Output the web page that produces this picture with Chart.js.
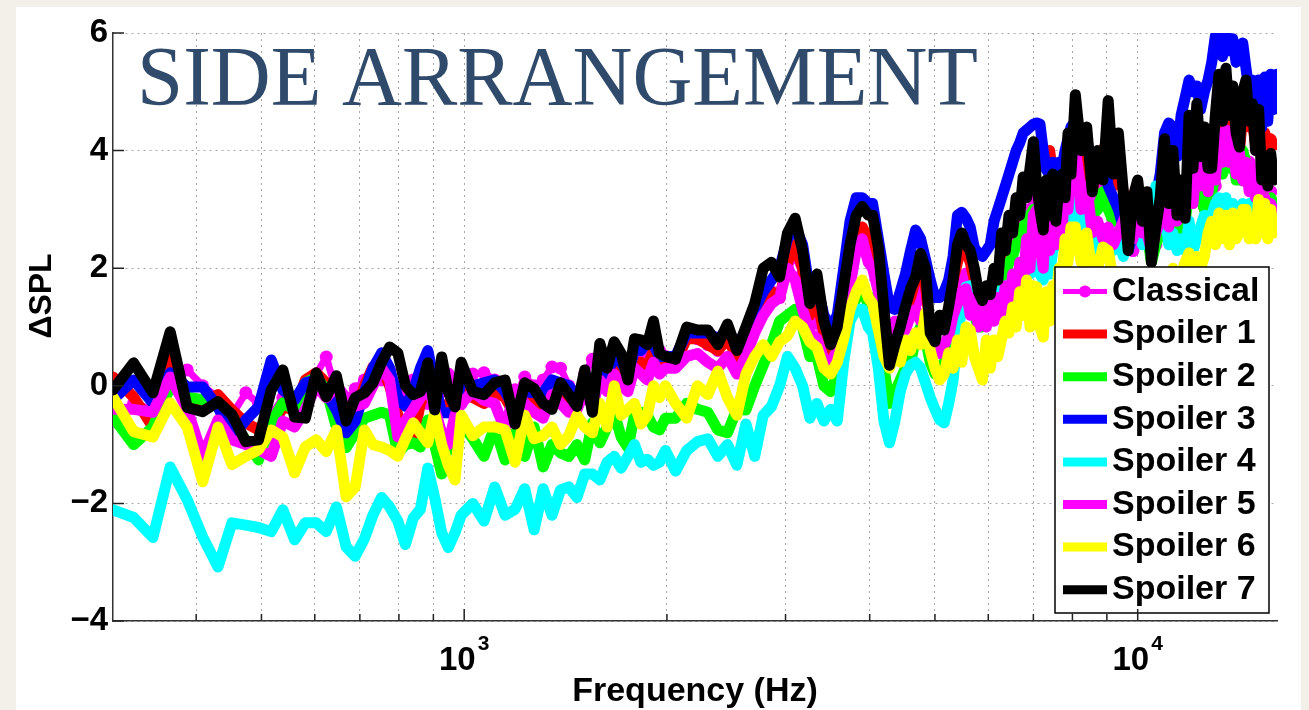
<!DOCTYPE html>
<html>
<head>
<meta charset="utf-8">
<title>Side arrangement</title>
<script src="https://cdn.jsdelivr.net/npm/chart.js@4.4.1/dist/chart.umd.min.js"></script>
<style>
  html, body { margin: 0; padding: 0; width: 1309px; height: 710px; overflow: hidden; background: #f3f0ea; }
  #panel { position: absolute; left: 16px; top: 7px; width: 1285px; height: 703px; background: #fff; }
  canvas { display: block; }
</style>
</head>
<body>
<div id="panel"><canvas id="chart" width="1285" height="703"></canvas></div>
<script>
// --- data (Hz / dB) ---
const freqs = [
  301, 323, 345, 366, 388, 409, 431, 452, 474, 495, 517, 538, 560, 581, 603, 624, 646,
  668, 689, 711, 732, 754, 775, 797, 818, 840, 861, 883, 904, 926, 947, 969, 990,
  1030, 1070, 1110, 1150, 1190, 1230, 1270, 1310, 1350, 1390, 1430, 1470, 1510,
  1550, 1590, 1630, 1670, 1710, 1750, 1790, 1830, 1870, 1910, 1950, 1990,
  2060, 2140, 2220, 2300, 2380, 2460, 2540, 2620, 2700, 2780, 2860, 2940, 3020,
  3100, 3180, 3260, 3340, 3420, 3500, 3580, 3660, 3740, 3820, 3900, 3980,
  4040, 4120, 4200, 4280, 4360, 4440, 4520, 4600, 4680, 4760,
  4840, 4920, 5000, 5080, 5160, 5240, 5320, 5400, 5480, 5560,
  5640, 5720, 5800, 5880, 5960, 6040, 6120, 6200, 6280, 6360,
  6440, 6520, 6600, 6680, 6760, 6840, 6920, 7000, 7080, 7160,
  7240, 7320, 7400, 7480, 7560, 7640, 7720, 7800, 7880, 7960,
  8080, 8240, 8400, 8560, 8720, 8880, 9040, 9200, 9360, 9520,
  9680, 9840, 10000, 10160, 10320, 10480, 10640, 10800, 10960, 11120,
  11280, 11440, 11600, 11760, 11920, 12080, 12240, 12400, 12560, 12720,
  12880, 13040, 13200, 13360, 13520, 13680, 13840, 14000, 14160, 14320,
  14480, 14640, 14800, 14960, 15120, 15280, 15440, 15600, 15760, 15920,
  16100
];

const classical = [
  -0.6, -0.3, -0.4, 0.3, 0.27, 0.0, -0.2, -0.5, -0.12, -0.3, -0.5, -0.2, -0.4, -0.1, 0.2, 0.49, -0.1,
  -0.3, -0.05, 0.1, 0.05, 0.1, 0.25, -0.1, -0.2, 0.1, 0.15, -0.3, 0.0, -0.1, 0.2, 0.0, -0.3,
  0.2, 0.22, 0.1, 0.0, -0.2, 0.15, 0.0, 0.1, 0.32, 0.3, 0.0, -0.1, 0.2, 0.45, 0.3, 0.2, 0.4, 0.3, 0.2, 0.5, 0.55, 0.45, 0.6, 0.6, 0.5,
  0.5, 0.8, 0.8, 0.7, 0.6, 0.8, 0.5, 0.8, 1.1, 1.4, 1.6, 1.5, 2.0, 2.2, 1.9, 1.0, 1.2, 0.6, 0.4, 0.8, 1.3, 2.0, 2.4, 2.5, 2.2,
  2.2, 1.7, 1.0, 0.5, 0.7, 0.9, 1.1, 1.3, 1.4, 1.6,
  1.5, 1.0, 0.8, 0.6, 0.7, 0.9, 1.3, 1.6, 1.8, 1.9,
  1.7, 1.6, 1.4, 1.3, 1.4, 1.5, 1.6, 1.8, 2.0, 2.1,
  2.2, 2.3, 2.5, 2.6, 2.8, 2.9, 3.0, 3.2, 3.0, 2.8,
  2.7, 2.6, 2.8, 3.0, 2.9, 2.8, 3.0, 3.2, 3.4, 3.6,
  3.8, 3.9, 3.4, 3.0, 3.2, 3.5, 3.1, 2.8, 2.9, 3.0,
  2.6, 2.3, 2.5, 2.8, 2.5, 2.2, 2.4, 2.6, 2.9, 3.1,
  3.0, 2.8, 2.7, 2.7, 3.2, 3.6, 3.5, 3.2, 3.4, 3.7,
  3.6, 3.4, 4.0, 4.2, 4.1, 3.8, 3.9, 4.1, 3.7, 3.5,
  3.6, 3.8, 3.4, 3.3, 3.3, 3.5, 3.4, 3.0, 3.3, 2.8,
  3.1
];
const spoiler1 = [
  0.15, -0.19, -0.7, 0.44, -0.24, -0.29, -0.15, -0.41, -0.63, -0.75, -0.75, -0.36, -0.41, 0.1, 0.22, 0.05, -0.02,
  -0.3, -0.5, 0.0, 0.32, 0.32, 0.0, -0.5, -0.8, -0.9, -0.3, 0.0, -0.2, -0.4, -0.3, -0.2, -0.1,
  -0.2, -0.3, -0.1, -0.2, -0.5, -0.2, -0.3, -0.4, -0.3, -0.2, -0.3, -0.4, 0.0, -0.3, 0.3, 0.1, 0.3, 0.2, 0.0, 0.4, 0.4, 0.3, 0.6, 0.3, 0.4,
  0.4, 0.8, 0.8, 0.7, 0.6, 0.8, 0.5, 0.8, 1.1, 1.5, 1.6, 1.5, 2.1, 2.4, 2.0, 1.2, 1.5, 0.9, 0.6, 0.9, 1.5, 2.1, 2.5, 2.7, 2.5,
  2.6, 2.0, 1.2, 0.5, 0.7, 0.9, 1.3, 1.5, 1.8, 2.0,
  1.7, 1.0, 0.9, 1.1, 1.0, 1.3, 1.8, 2.1, 2.4, 2.3,
  2.1, 1.8, 1.5, 1.4, 1.6, 1.6, 1.9, 1.9, 2.3, 2.4,
  2.7, 2.8, 3.0, 3.1, 3.3, 3.4, 3.6, 3.9, 3.7, 3.9,
  4.0, 3.95, 4.0, 3.6, 3.4, 3.3, 3.5, 3.6, 3.9, 4.0,
  4.5, 4.1, 4.0, 3.3, 3.8, 4.0, 4.2, 3.4, 3.8, 3.3,
  2.6, 3.0, 3.2, 2.8, 3.0, 2.3, 2.6, 3.0, 3.7, 3.1,
  3.6, 2.9, 3.2, 2.9, 3.9, 3.4, 3.5, 3.2, 3.0, 3.3,
  3.6, 4.2, 4.8, 4.3, 4.9, 4.4, 4.8, 4.2, 4.0, 4.6,
  4.9, 4.4, 4.5, 4.1, 4.5, 4.0, 4.3, 4.1, 4.2, 4.1,
  4.1
];
const spoiler2 = [
  -0.53, -1.0, -0.7, -0.02, -0.19, -0.24, -0.36, -0.63, -0.92, -1.26, -0.63, -0.29, -0.41, 0.05, 0.15, -0.07, -0.7,
  -1.05, -0.8, -0.55, -0.5, -0.45, -0.5, -1.15, -1.0, -0.97, -1.04, -0.58, -1.0, -1.5, -1.0, -0.58, -0.63,
  -0.9, -1.2, -0.7, -1.26, -0.8, -1.2, -0.7, -1.38, -1.0, -1.14, -1.2, -1.0, -1.26, -0.63, -0.97, -0.7, -0.46, -0.87, -1.05, -0.5, -0.45, -0.5, -0.7, -0.75, -0.55,
  -0.55, -0.3, -0.4, -0.45, -0.75, -0.8, -0.4, -0.41, 0.0, 0.35, 0.7, 1.1, 1.2, 1.3, 1.0, 0.5, 0.5, 0.0, -0.1, 0.2, 0.7, 1.2, 1.5, 1.6, 1.4,
  1.5, 0.9, 0.3, -0.3, -0.1, 0.1, 0.3, 0.4, 0.8, 1.0,
  0.8, 0.4, 0.2, 0.3, 0.4, 0.6, 1.0, 1.2, 1.5, 1.5,
  1.3, 1.2, 1.0, 1.0, 1.1, 1.2, 1.4, 1.5, 1.7, 1.9,
  2.1, 2.2, 2.4, 2.5, 2.7, 2.8, 2.9, 3.0, 2.8, 2.6,
  2.7, 2.8, 2.6, 2.8, 2.5, 2.5, 2.7, 2.9, 3.2, 3.3,
  3.6, 3.1, 3.3, 2.9, 3.0, 3.3, 3.0, 2.8, 2.9, 2.6,
  2.3, 2.6, 2.8, 2.6, 2.6, 2.1, 2.4, 2.6, 3.1, 2.8,
  3.0, 2.6, 2.8, 2.8, 3.3, 3.1, 3.4, 3.2, 3.0, 3.4,
  3.3, 3.6, 4.0, 3.6, 4.0, 3.7, 3.9, 3.5, 3.5, 4.0,
  3.8, 3.4, 3.6, 3.2, 3.4, 3.1, 3.2, 3.0, 3.2, 3.1,
  3.1
];
const spoiler3 = [
  -0.24, 0.1, -0.29, 0.22, -0.02, -0.02, -0.36, -0.87, -0.58, -0.36, 0.44, -0.07, -0.24, 0.05, 0.1, -0.12, -0.41,
  -0.8, -0.6, -0.1, 0.3, 0.56, 0.3, -0.2, -0.35, -0.1, 0.3, 0.6, 0.05, -0.46, -0.46, -0.46, 0.1,
  0.0, 0.05, 0.1, -0.1, -0.4, -0.1, -0.12, -0.12, 0.1, 0.05, 0.0, -0.2, 0.1, -0.3, 0.4, 0.2, 0.5, 0.4, 0.2, 0.6, 0.6, 0.75, 0.7, 0.5, 0.5,
  0.5, 0.9, 0.9, 0.9, 0.8, 0.95, 0.7, 0.9, 1.3, 1.6, 1.8, 2.0, 2.5, 2.7, 2.4, 1.6, 1.7, 1.2, 1.0, 1.2, 2.0, 2.8, 3.2, 3.2, 3.1,
  3.1, 2.5, 1.9, 1.34, 1.3, 1.6, 1.9, 2.3, 2.65, 2.5,
  2.15, 1.8, 1.5, 1.5, 1.6, 1.8, 2.2, 2.9, 2.95, 2.85,
  2.7, 2.35, 2.25, 2.2, 2.3, 2.4, 2.8, 3.0, 3.2, 3.4,
  3.6, 3.8, 4.0, 4.13, 4.3, 4.35, 4.4, 4.45, 4.47, 4.45,
  4.0, 3.67, 3.6, 3.8, 3.5, 3.8, 3.7, 4.0, 4.2, 4.4,
  4.5, 4.1, 4.2, 3.7, 3.6, 4.0, 3.4, 3.2, 3.0, 2.7,
  2.3, 2.6, 2.9, 2.6, 2.9, 2.5, 3.2, 3.6, 4.3, 4.47,
  4.4, 3.9, 4.6, 4.9, 5.2, 5.0, 5.1, 4.7, 5.0, 5.2,
  5.5, 5.95, 6.0, 5.6, 6.0, 5.7, 5.9, 5.5, 5.6, 5.83,
  5.4, 5.0, 5.2, 4.6, 5.2, 4.4, 5.25, 4.5, 5.3, 4.7,
  5.3
];
const spoiler4 = [
  -2.11, -2.24, -2.58, -1.38, -1.94, -2.57, -3.08, -2.33, -2.37, -2.41, -2.48, -2.11, -2.62, -2.33, -2.33, -2.48, -2.06,
  -2.74, -2.9, -2.6, -2.2, -1.9, -2.06, -2.3, -2.7, -2.25, -2.1, -1.4, -1.9, -2.5, -2.75, -2.5, -2.2,
  -2.0, -2.3, -1.72, -2.2, -2.1, -1.75, -2.45, -1.75, -2.2, -1.77, -1.72, -1.9, -1.5, -1.5, -1.6, -1.3, -1.2, -1.4, -1.2, -1.0, -1.3, -1.25, -1.35, -1.3, -1.1,
  -1.45, -1.1, -0.95, -0.9, -1.2, -1.0, -1.35, -0.65, -1.2, -0.5, -0.35, 0.0, 0.5, 0.3, 0.0, -0.55, -0.3, -0.6, -0.4, -0.6, 0.4, 1.1, 1.3, 1.3, 1.0,
  0.9, 0.3, -0.6, -0.97, -0.6, -0.1, 0.2, 0.35, 0.4, 0.3,
  0.05, -0.2, -0.4, -0.58, -0.63, -0.3, 0.1, 0.9, 1.3, 1.68,
  1.7, 1.5, 1.5, 1.4, 1.5, 1.5, 1.55, 1.6, 1.6, 1.7,
  1.5, 1.8, 1.7, 1.85, 1.8, 1.95, 1.9, 2.0, 2.05, 1.9,
  1.8, 2.1, 1.9, 2.3, 2.4, 2.6, 3.0, 2.6, 3.2, 2.4,
  3.2, 2.2, 2.9, 2.3, 2.6, 2.4, 2.5, 2.3, 2.6, 2.2,
  2.5, 3.0, 3.3, 2.4, 2.8, 2.3, 3.4, 2.7, 3.0, 2.4,
  2.6, 2.3, 2.5, 2.3, 2.8, 2.3, 2.5, 2.7, 2.9, 2.6,
  2.9, 3.1, 3.2, 2.9, 3.2, 2.9, 3.1, 2.8, 3.0, 3.1,
  2.9, 3.1, 3.0, 3.2, 3.1, 3.2, 3.0, 2.9, 3.1, 2.9,
  2.95
];
const spoiler5 = [
  -0.4, -0.4, -0.45, 0.15, -0.4, -1.2, -0.58, -0.92, -1.0, -1.09, -1.2, -0.6, -0.7, -0.4, 0.0, -0.2, 0.0,
  -0.2, -0.35, -0.3, 0.0, 0.3, 0.1, -0.87, -0.6, -0.4, -0.2, 0.0, -0.4, -0.8, -1.0, -0.5, -0.3,
  -0.1, -0.25, -0.3, -0.75, -0.05, -0.3, -0.45, -0.55, -0.15, -0.3, -0.45, -0.4, -0.1, -0.35, 0.1, -0.1, 0.2, 0.0, -0.1, 0.3, 0.2, 0.1, 0.4, 0.2, 0.3,
  0.3, 0.5, 0.55, 0.4, 0.3, 0.5, 0.2, 0.5, 0.9, 1.2, 1.4, 1.5, 2.0, 1.8, 1.3, 0.9, 0.8, 0.45, 0.4, 0.6, 1.0, 1.7, 2.3, 2.5, 2.1,
  2.0, 1.6, 1.0, 0.75, 1.1, 0.9, 0.95, 1.2, 1.3, 1.1,
  1.25, 1.1, 0.7, 0.55, 0.7, 0.85, 1.2, 1.4, 1.6, 1.65,
  1.2, 1.5, 1.0, 1.34, 1.0, 1.45, 1.1, 1.5, 1.2, 1.7,
  1.3, 1.9, 1.5, 2.1, 1.7, 2.5, 2.0, 2.9, 2.99, 2.4,
  2.0, 3.0, 2.3, 2.9, 2.4, 3.1, 2.6, 3.5, 3.0, 3.9,
  3.96, 3.0, 3.4, 2.6, 2.8, 2.5, 2.7, 2.4, 2.6, 2.8,
  3.0, 2.5, 3.0, 2.6, 2.6, 2.3, 2.6, 2.8, 3.1, 2.7,
  3.2, 2.8, 2.9, 3.3, 3.6, 3.1, 3.84, 3.4, 3.7, 3.3,
  3.9, 3.5, 4.3, 3.8, 4.35, 3.8, 4.1, 3.6, 3.96, 3.5,
  3.8, 3.3, 3.7, 3.2, 3.4, 3.0, 3.2, 2.9, 3.1, 2.9,
  3.0
];
const spoiler6 = [
  -0.19, -0.78, -0.87, -0.29, -0.7, -1.63, -0.7, -1.34, -1.2, -1.09, -0.75, -0.87, -1.48, -1.04, -0.92, -1.12, -0.75,
  -1.89, -1.72, -0.75, -1.0, -1.04, -1.1, -1.2, -0.9, -0.63, -0.8, -0.97, -0.46, -1.0, -1.35, -1.6, -0.5,
  -0.85, -0.7, -0.7, -0.75, -1.3, -0.5, -0.9, -0.85, -0.7, -1.0, -0.85, -0.5, -0.7, -0.8, -0.3, -0.7, 0.0, -0.5, -0.4, -0.3, -0.65, -0.5, 0.0, -0.2, 0.0,
  -0.3, -0.55, 0.0, -0.15, 0.25, -0.2, -0.5, 0.2, 0.5, 0.7, 0.5, 0.75, 0.85, 1.1, 1.0, 0.75, 0.65, 0.3, 0.2, 0.4, 0.8, 1.3, 1.6, 1.8, 1.5,
  1.4, 0.95, 0.5, 0.3, 0.56, 0.4, 0.78, 0.6, 0.9, 0.7,
  1.24, 0.6, 0.3, 0.1, 0.2, 0.56, 0.3, 0.78, 0.4, 1.0,
  0.95, 0.5, 0.3, 0.1, 0.78, 0.3, 0.78, 0.5, 0.8, 1.1,
  0.9, 1.34, 1.0, 1.6, 1.2, 1.8, 1.0, 1.7, 1.68, 1.0,
  0.83, 1.6, 1.1, 1.7, 1.4, 2.0, 1.8, 2.5, 2.1, 2.7,
  2.7, 2.1, 2.6, 1.9, 2.0, 2.36, 2.3, 1.8, 1.7, 1.5,
  1.9, 1.6, 1.7, 1.5, 1.6, 1.8, 1.8, 1.6, 1.9, 1.7,
  2.0, 1.8, 1.9, 2.1, 2.26, 1.9, 2.2, 2.0, 2.2, 2.6,
  2.8, 2.4, 2.94, 2.5, 2.9, 2.4, 2.94, 2.5, 2.6, 3.0,
  3.0, 2.5, 2.8, 2.5, 3.17, 2.6, 3.1, 2.5, 3.0, 2.6,
  2.8
];
const spoiler7 = [
  -0.07, 0.39, -0.12, 0.92, -0.37, -0.44, -0.27, -0.49, -0.95, -0.92, -0.07, 0.27, -0.53, -0.55, 0.22, -0.19, 0.17,
  -0.6, -0.2, -0.12, 0.05, 0.4, 0.66, 0.56, 0.0, -0.15, -0.1, 0.39, -0.41, 0.49, -0.1, -0.36, 0.4,
  -0.1, -0.15, 0.05, 0.1, -0.65, 0.05, -0.05, -0.3, -0.4, 0.05, -0.15, -0.35, 0.27, -0.45, 0.72, 0.3, 0.75, 0.55, 0.1, 0.8, 0.78, 0.7, 1.1, 0.55, 0.5,
  0.45, 1.0, 0.95, 0.95, 0.7, 1.05, 0.6, 1.0, 1.4, 2.0, 2.1, 1.85, 2.6, 2.85, 2.3, 1.4, 1.9, 1.1, 0.7, 1.0, 1.7, 2.4, 2.9, 3.05, 2.9,
  2.9, 2.35, 1.3, 0.35, 0.7, 1.0, 1.35, 1.65, 1.85, 2.25,
  2.0, 0.9, 0.75, 1.2, 0.95, 1.35, 1.8, 2.4, 2.6, 2.4,
  2.3, 2.0, 1.6, 1.45, 1.7, 1.55, 2.0, 1.8, 2.6, 2.3,
  2.9, 2.6, 3.2, 2.9, 3.55, 3.2, 3.7, 4.15, 3.4, 3.0,
  2.65, 3.5, 2.9, 3.6, 2.8, 3.4, 3.6, 3.2, 4.3, 3.6,
  4.95, 4.0, 4.4, 3.3, 4.0, 3.5, 4.85, 3.6, 4.3, 3.3,
  2.3, 3.2, 3.5, 2.8, 3.3, 2.1, 2.7, 3.2, 4.2, 3.1,
  4.0, 2.9, 3.5, 2.85, 4.6, 3.7, 4.8, 3.9, 4.4, 3.7,
  3.7, 4.6, 5.3, 4.5, 5.4, 4.6, 5.1, 4.3, 4.06, 5.0,
  5.2, 4.5, 4.8, 4.0, 4.7, 3.5, 3.9, 3.4, 3.95, 3.5,
  3.6
];

const seriesNames = ["Classical", "Spoiler 1", "Spoiler 2", "Spoiler 3", "Spoiler 4", "Spoiler 5", "Spoiler 6", "Spoiler 7"];
const seriesValues = [classical, spoiler1, spoiler2, spoiler3, spoiler4, spoiler5, spoiler6, spoiler7];
const seriesColors = ["#ff00ff", "#ff0000", "#00ff00", "#0000ff", "#00ffff", "#ff00ff", "#ffff00", "#000000"];

const yTicks = [-4, -2, 0, 2, 4, 6];
const xGridTicks = [400, 500, 600, 700, 800, 900, 1000, 2000, 3000, 4000, 5000, 6000, 7000, 8000, 9000, 10000];
const xDecades = [1000, 10000];
const xDecadeExp = ["3", "4"];

const chartTitle = "SIDE ARRANGEMENT";
const xTitle = "Frequency (Hz)";
const yTitle = "\u0394SPL";

const SANS = '"Liberation Sans", Arial, Helvetica, sans-serif';
Chart.defaults.font.family = SANS;

// --- extra drawing: title, axis label, tick marks, 10^n labels, legend ---
const decor = {
  id: "decor",
  beforeDatasetsDraw(chart) {
    const ctx = chart.ctx;
    ctx.save();
    ctx.fillStyle = "#2f4a6a";
    ctx.font = '84px "Liberation Serif", "Times New Roman", serif';
    ctx.textAlign = "left";
    ctx.textBaseline = "alphabetic";
    ctx.fillText(chartTitle, 121, 98, 841);
    ctx.restore();
  },
  afterDatasetsDraw(chart) {
    const ctx = chart.ctx;
    const lx = 1039, ly = 260, lw = 214, lh = 346;
    ctx.save();
    ctx.fillStyle = "#fff";
    ctx.fillRect(lx, ly, lw, lh);
    ctx.strokeStyle = "#000";
    ctx.lineWidth = 1.5;
    ctx.strokeRect(lx, ly, lw, lh);
    ctx.font = "bold 34px " + SANS;
    ctx.textAlign = "left";
    ctx.textBaseline = "middle";
    seriesNames.forEach((name, i) => {
      const cy = ly + 24.5 + i * 42.6;
      ctx.strokeStyle = seriesColors[i];
      ctx.lineWidth = i === 0 ? 5 : 9;
      ctx.beginPath();
      ctx.moveTo(lx + 8, cy);
      ctx.lineTo(lx + 52, cy);
      ctx.stroke();
      if (i === 0) {
        ctx.fillStyle = seriesColors[i];
        ctx.beginPath();
        ctx.arc(lx + 30, cy, 6, 0, Math.PI * 2);
        ctx.fill();
      }
      ctx.fillStyle = "#000";
      ctx.fillText(name, lx + 57, cy);
    });
    ctx.restore();
  },
  afterDraw(chart) {
    const { ctx, chartArea: a, scales: { x, y } } = chart;
    ctx.save();
    ctx.strokeStyle = "#222";
    ctx.lineWidth = 1.5;
    ctx.beginPath();
    yTicks.forEach(v => {
      const py = y.getPixelForValue(v);
      ctx.moveTo(a.left, py);
      ctx.lineTo(a.left + 11, py);
    });
    xGridTicks.forEach(v => {
      const px = x.getPixelForValue(v);
      const len = xDecades.includes(v) ? 12 : 7;
      ctx.moveTo(px, a.bottom);
      ctx.lineTo(px, a.bottom - len);
    });
    ctx.stroke();

    // 10^3, 10^4
    ctx.fillStyle = "#000";
    ctx.textAlign = "left";
    ctx.textBaseline = "alphabetic";
    const big = "bold 33px " + SANS, small = "bold 21px " + SANS;
    xDecades.forEach((v, i) => {
      const px = x.getPixelForValue(v);
      ctx.font = big;
      const w1 = ctx.measureText("10").width;
      ctx.font = small;
      const w2 = ctx.measureText(xDecadeExp[i]).width;
      const start = px - (w1 + 2 + w2) / 2;
      ctx.font = big;
      ctx.fillText("10", start, a.bottom + 49);
      ctx.font = small;
      ctx.fillText(xDecadeExp[i], start + w1 + 2, a.bottom + 29);
    });

    // y axis label
    ctx.translate(26, 289);
    ctx.rotate(-Math.PI / 2);
    ctx.font = "bold 32px " + SANS;
    ctx.textAlign = "center";
    ctx.textBaseline = "middle";
    ctx.fillText(yTitle, 0, 0);
    ctx.restore();
  }
};

const datasets = seriesNames.map((name, i) => ({
  label: name,
  data: freqs.map((f, k) => ({ x: f, y: seriesValues[i][k] })),
  borderColor: seriesColors[i],
  backgroundColor: seriesColors[i],
  borderWidth: i === 0 ? 7 : 11,
  pointRadius: i === 0 ? 6.5 : 0,
  pointBorderWidth: 0,
  pointBackgroundColor: seriesColors[i],
  pointHoverRadius: 0,
  borderJoinStyle: "round",
  borderCapStyle: "round",
  tension: 0,
  fill: false,
  order: seriesNames.length - 1 - i   // Spoiler 7 on top
}));

new Chart(document.getElementById("chart").getContext("2d"), {
  type: "line",
  data: { datasets },
  options: {
    responsive: false,
    animation: false,
    events: [],
    layout: { padding: { top: 26, right: 24, left: 0, bottom: 0 } },
    plugins: { legend: { display: false }, tooltip: { enabled: false } },
    scales: {
      x: {
        type: "logarithmic",
        min: 301,
        max: 16100,
        bounds: "data",
        afterBuildTicks: s => { s.ticks = xGridTicks.map(v => ({ value: v })); },
        afterFit: s => { s.height = 89; },
        ticks: { display: false },
        grid: { color: "#a8a8a8", lineWidth: 1, drawTicks: false },
        border: { display: true, color: "#333", width: 1.5, dash: [2, 4] },
        title: {
          display: true,
          text: xTitle,
          color: "#000",
          font: { size: 34, weight: "bold", lineHeight: 1.1 },
          padding: { top: 0, bottom: 0 }
        }
      },
      y: {
        type: "linear",
        min: -4,
        max: 6,
        afterFit: s => { s.width = 97; },
        ticks: {
          stepSize: 2,
          color: "#000",
          padding: 5,
          font: { size: 33, weight: "bold" },
          callback: v => (v < 0 ? "\u2212" + Math.abs(v) : String(v))
        },
        grid: { color: "#a8a8a8", lineWidth: 1, drawTicks: false },
        border: { display: true, color: "#333", width: 1.5, dash: [2, 4] }
      }
    }
  },
  plugins: [decor]
});
</script>
</body>
</html>
